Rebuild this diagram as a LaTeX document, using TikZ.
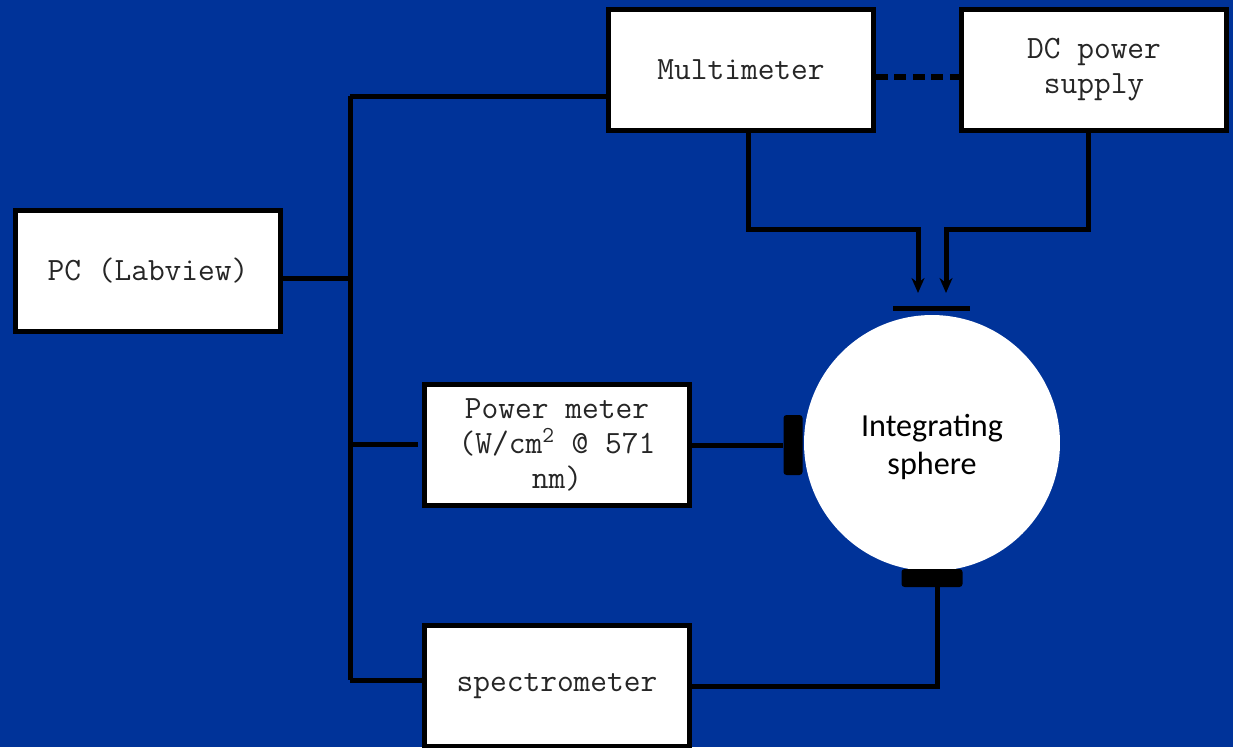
\documentclass[tikz,border=0pt]{standalone}
\usepackage{fontspec}
\setsansfont{Carlito}
\usetikzlibrary{arrows.meta}
\definecolor{bgblue}{HTML}{003399}
\tikzset{
  unit/.style={draw=black, fill=white, line width=0.1cm, minimum width=5.3cm,
    minimum height=2.42cm, align=center, text=black!85,
    font=\ttfamily\fontsize{18.5}{20}\selectfont},
  wire/.style={line width=0.1cm},
  port/.style={fill=black, rounded corners=0.06cm, inner sep=0pt},
  tip/.style={-{Stealth[length=0.3cm, width=0.26cm]}},
}
\begin{document}
\begin{tikzpicture}[x=0.02cm,y=-0.02cm]
\useasboundingbox[fill=bgblue] (0,0) rectangle (1233,747);
% boxes
\node[unit] (pc) at (148,271) {PC (Labview)};
\node[unit] (multi) at (741,70) {Multimeter};
\node[unit] (dc) at (1094,70) {DC power\\supply};
\node[unit] (pm) at (557,445) {Power meter\\(W/cm\textsuperscript{2} @ 571\\nm)};
\node[unit] (spec) at (557,686) {spectrometer};
% sphere and ports
\node[circle, fill=white, minimum size=5.12cm,
  label={[align=center, yshift=-0.08cm, font=\sffamily\fontsize{18.3}{21.5}\selectfont]center:Integrating\\sphere}]
  (sphere) at (932,443) {};
\node[port, minimum width=0.38cm, minimum height=1.2cm] (lport) at (793,445) {};
\node[port, minimum width=1.22cm, minimum height=0.36cm] (bport) at (932,578) {};
\node[fill=black, inner sep=0pt, minimum width=1.54cm, minimum height=0.1cm] (plate) at (931,308) {};
% bus
\coordinate (b1) at (350,96);
\coordinate (b2) at (350,278);
\coordinate (b3) at (350,444);
\coordinate (b4) at (350,680);
\draw[wire] (b1) -- (b4);
\draw[wire] (b1) -- (b1 -| multi.west);
\draw[wire] (pc.east |- b2) -- (b2);
\draw[wire] (b3) -- ([xshift=-0.08cm]b3 -| pm.west);
\draw[wire] (b4) -- (b4 -| spec.west);
% meters to sphere
\draw[wire] (pm.east) -- (lport.west);
\draw[wire] (bport.south -| 937,0) |- (spec.east);
\draw[wire, line width=0.12cm, dash pattern=on 0.24cm off 0.13cm] ([yshift=-0.14cm]multi.east) -- ([yshift=-0.14cm]dc.west);
\coordinate (mm) at (748,229);
\coordinate (dd) at (1088,229);
\coordinate (ta) at (918,293);
\coordinate (tb) at (946,293);
\draw[wire, tip] (multi.south -| mm) -- (mm) -| (ta);
\draw[wire, tip] (dc.south -| dd) -- (dd) -| (tb);
\end{tikzpicture}
\end{document}
